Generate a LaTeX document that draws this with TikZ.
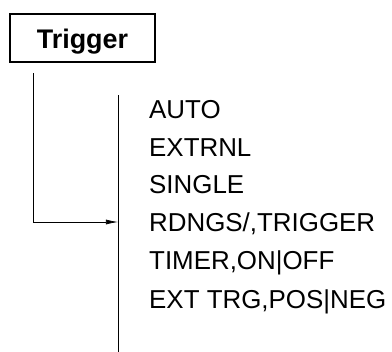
\documentclass[tikz,border=0pt]{standalone}
\usepackage{fontspec}
\setmainfont{Liberation Sans}
\usepackage{tikz}
\usetikzlibrary{arrows.meta}

\begin{document}
\begin{tikzpicture}[x=1bp, y=-1bp,
    keybox/.style={draw, line width=2bp, minimum width=145bp, minimum height=48bp,
        inner sep=0pt, text height=20bp, text depth=0pt, font=\fontsize{27}{30}\bfseries\selectfont},
    item/.style={anchor=base west, inner sep=0pt, font=\fontsize{26}{30}\selectfont},
    wire/.style={line width=0.7bp}]
        \useasboundingbox (0,0) rectangle (392,352);
        \node[keybox] (trigger) at (82.5,38) {Trigger};
        \coordinate (down) at (33,73);
        \coordinate (bend) at (33,222);
        \coordinate (bar top) at (118,95);
        \coordinate (bar end) at (118,352);
        \coordinate (hit) at (118,222);
        \node[item] (auto) at (149,118) {AUTO};
        \node[item] (extrnl) at (149,156) {EXTRNL};
        \node[item] (single) at (149,193) {SINGLE};
        \node[item] (rdngs) at (149,231) {RDNGS/,TRIGGER};
        \node[item] (timer) at (149,269) {TIMER,ON|OFF};
        \node[item] (exttrg) at (149,308) {EXT TRG,POS|NEG};
        \draw[wire] (bar top) -- (bar end);
        \draw[wire, -{Latex[length=12bp,width=5bp]}] (down) -- (bend) -- (hit);
    \end{tikzpicture}
\end{document}
